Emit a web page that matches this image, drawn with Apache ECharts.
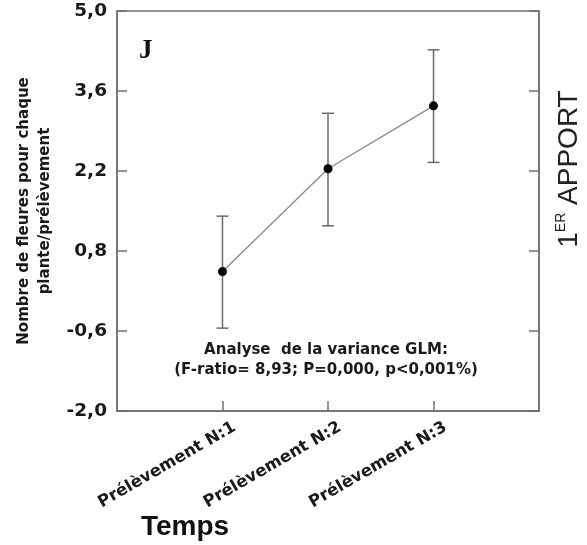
<!DOCTYPE html>
<html><head><meta charset="utf-8">
<script src="https://cdn.jsdelivr.net/npm/echarts@6/dist/echarts.min.js"></script>
<style>html,body{margin:0;padding:0;background:#fff}#c{width:587px;height:545px}</style>
</head><body><div id="c"></div>
<script>
// ---- data ----
const categories = ['', 'Prélèvement N:1', 'Prélèvement N:2', 'Prélèvement N:3', ''];
const sampleNames = ['Prélèvement N:1', 'Prélèvement N:2', 'Prélèvement N:3'];
const means = [0.44, 2.24, 3.34];
const lowerCI = [-0.55, 1.24, 2.35];
const upperCI = [1.41, 3.21, 4.32];
const yTicks = [-2.0, -0.6, 0.8, 2.2, 3.6, 5.0];
const yAxisTitle = 'Nombre de fleures pour chaque\nplante/prélèvement';
const xAxisTitle = 'Temps';
const panelLetter = 'J';
const annotation = 'Analyse  de la variance GLM:\n(F-ratio= 8,93; P=0,000, p<0,001%)';

const frameColor = '#6f6f6f';
const chart = echarts.init(document.getElementById('c'), null, {renderer: 'canvas'});
const fmt = v => v.toFixed(1).replace('.', ',');

chart.setOption({
  animation: false,
  backgroundColor: '#fff',
  grid: {left: 117, right: 48, top: 11, bottom: 134, show: true, borderColor: frameColor, borderWidth: 1.5},
  xAxis: {
    type: 'category', data: categories, boundaryGap: false,
    axisLine: {show: true, onZero: false, lineStyle: {color: frameColor, width: 1.5}},
    axisTick: {show: true, inside: true, length: 10, interval: (i, v) => v !== '', lineStyle: {color: frameColor, width: 1.5}},
    axisLabel: {rotate: 30, margin: 22, padding: [6, -14, 0, 0], fontFamily: 'DejaVu Sans', fontWeight: 'bold', fontSize: 16.5, color: '#1a1a1a', interval: 0},
    splitLine: {show: false}
  },
  yAxis: [{
    type: 'value', min: -2, max: 5,
    axisLine: {show: true, lineStyle: {color: frameColor, width: 1.5}},
    axisTick: {show: true, inside: true, length: 10, customValues: yTicks, lineStyle: {color: frameColor, width: 1.5}},
    axisLabel: {customValues: yTicks, formatter: fmt, margin: 10, fontFamily: 'DejaVu Sans', fontWeight: 'bold', fontSize: 18.5, color: '#1a1a1a'},
    splitLine: {show: false},
    name: yAxisTitle, nameLocation: 'middle', nameRotate: 90, nameGap: 59,
    nameTextStyle: {fontFamily: 'DejaVu Sans', fontWeight: 'bold', fontSize: 15, color: '#1a1a1a', lineHeight: 21}
  }, {
    type: 'value', min: -2, max: 5, position: 'right',
    axisLine: {show: true, lineStyle: {color: frameColor, width: 1.5}},
    axisTick: {show: true, inside: true, length: 10, customValues: yTicks, lineStyle: {color: frameColor, width: 1.5}},
    axisLabel: {show: false}, splitLine: {show: false}
  }],
  series: [{
    type: 'custom', name: 'IC',
    data: sampleNames.map((c, i) => [c, lowerCI[i], upperCI[i]]),
    encode: {x: 0, y: [1, 2]},
    renderItem: (params, api) => {
      const lo = api.coord([api.value(0), api.value(1)]);
      const hi = api.coord([api.value(0), api.value(2)]);
      const hw = 6;
      const st = {stroke: '#6a6a6a', lineWidth: 1.5};
      return {type: 'group', children: [
        {type: 'line', shape: {x1: lo[0], y1: lo[1], x2: hi[0], y2: hi[1]}, style: st},
        {type: 'line', shape: {x1: lo[0] - hw, y1: lo[1], x2: lo[0] + hw, y2: lo[1]}, style: st},
        {type: 'line', shape: {x1: hi[0] - hw, y1: hi[1], x2: hi[0] + hw, y2: hi[1]}, style: st}
      ]};
    }
  }, {
    type: 'line', name: 'Moyenne',
    data: sampleNames.map((c, i) => [c, means[i]]),
    symbol: 'circle', symbolSize: 9,
    lineStyle: {color: '#8a8a8a', width: 1.3},
    itemStyle: {color: '#000'}, z: 5
  }],
  graphic: [
    {type: 'text', left: 139, top: 38, style: {text: panelLetter, font: 'bold 27px "Liberation Serif"', fill: '#111'}},
    {type: 'text', x: 326, y: 360, style: {text: annotation, font: 'bold 15px "DejaVu Sans"', fill: '#1a1a1a', align: 'center', verticalAlign: 'middle', lineHeight: 20}},
    {type: 'text', x: 185, y: 527, style: {text: xAxisTitle, font: 'bold 28px "Liberation Sans"', fill: '#111', align: 'center', verticalAlign: 'middle'}},
    {type: 'text', x: 569, y: 169, rotation: Math.PI / 2, style: {
      text: '{a|1}{b|ER}{a| APPORT}', align: 'center', verticalAlign: 'middle', fill: '#222',
      rich: {a: {fontFamily: 'Liberation Sans', fontSize: 28, lineHeight: 30, verticalAlign: 'middle'},
             b: {fontFamily: 'Liberation Sans', fontSize: 14, lineHeight: 30, verticalAlign: 'top', padding: [0, 0, 14, 0]}}
    }}
  ]
});
</script></body></html>
